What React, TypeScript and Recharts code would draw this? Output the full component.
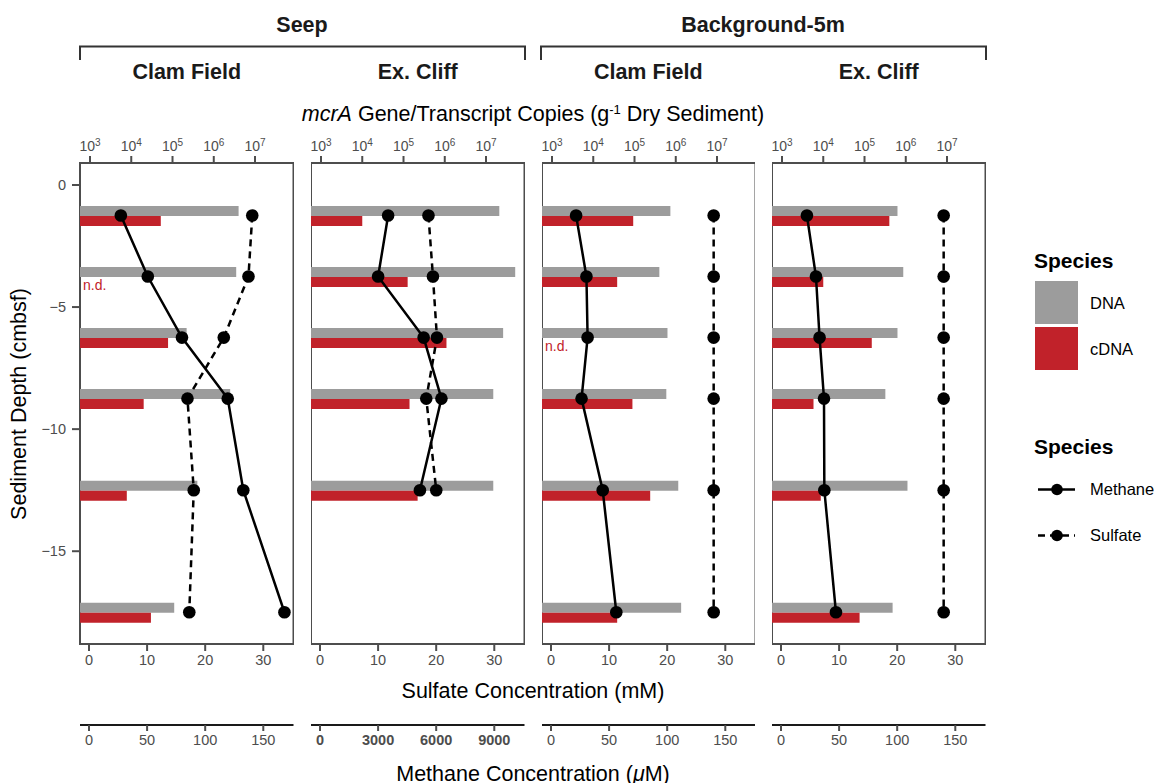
import React from "react";
import { ComposedChart, Bar, Line, XAxis, YAxis, ReferenceArea, ReferenceDot } from "recharts";

// sediment depth of each sampled horizon (cmbsf)
const depths = [-1.25, -3.75, -6.25, -8.75, -12.5, -17.5];

// mcrA copies per g dry sediment (null = n.d. / not sampled)
const seepClamDna = [4.0e6, 3.5e6, 2.2e5, 2.5e6, 4.0e5, 1.1e5];
const seepClamCdna = [5.2e4, null, 7.8e4, 2.0e4, 7.8e3, 3.0e4];
const seepCliffDna = [2.1e7, 5.1e7, 2.6e7, 1.5e7, 1.5e7, null];
const seepCliffCdna = [1.0e4, 1.26e5, 1.1e6, 1.4e5, 2.2e5, null];
const bgClamDna = [7.4e5, 4.0e5, 6.3e5, 5.9e5, 1.15e6, 1.35e6];
const bgClamCdna = [9.3e4, 3.8e4, null, 8.9e4, 2.4e5, 3.8e4];
const bgCliffDna = [6.3e5, 8.7e5, 6.3e5, 3.2e5, 1.1e6, 4.8e5];
const bgCliffCdna = [4.0e5, 1.0e4, 1.5e5, 5.8e3, 8.7e3, 7.6e4];

// methane (uM) and sulfate (mM)
const seepClamMethane = [27.4, 50.6, 80, 119.4, 132.8, 168.2];
const seepClamSulfate = [28.1, 27.45, 23.2, 16.95, 18.03, 17.26];
const seepCliffMethane = [3518, 3000, 5352, 6271, 5160, null];
const seepCliffSulfate = [18.67, 19.44, 20.13, 18.29, 20.01, null];
const bgClamMethane = [21.6, 30.5, 31.5, 26.3, 44.5, 56.2];
const bgClamSulfate = [28, 28, 28, 28, 28, 28];
const bgCliffMethane = [22.3, 30.1, 33.2, 37, 37.3, 47.3];
const bgCliffSulfate = [28, 28, 28, 28, 28, 28];

const logTicks = [1e3, 1e4, 1e5, 1e6, 1e7];
const sulfateTicks = [0, 10, 20, 30];
const depthTicks = [0, -5, -10, -15];
const methaneTicksLow = [0, 50, 100, 150];
const methaneTicksHigh = [0, 3000, 6000, 9000];

const LOG_DOMAIN: [number, number] = [572, 8.57e7];
const SULFATE_DOMAIN: [number, number] = [-1.55, 35.2];
const DEPTH_DOMAIN: [number, number] = [-18.8, 0.9];

const GRAY = "#9c9c9c";
const RED = "#c1222a";
const AXIS = "#4d4d4d";
const FONT = "'Liberation Sans', Arial, Helvetica, sans-serif";

const panels = [
  { title: "Clam Field", left: 80, dna: seepClamDna, cdna: seepClamCdna, methane: seepClamMethane, sulfate: seepClamSulfate, factor: 5, mTicks: methaneTicksLow, boldM: false },
  { title: "Ex. Cliff", left: 311, dna: seepCliffDna, cdna: seepCliffCdna, methane: seepCliffMethane, sulfate: seepCliffSulfate, factor: 300, mTicks: methaneTicksHigh, boldM: true },
  { title: "Clam Field", left: 541.5, dna: bgClamDna, cdna: bgClamCdna, methane: bgClamMethane, sulfate: bgClamSulfate, factor: 5, mTicks: methaneTicksLow, boldM: false },
  { title: "Ex. Cliff", left: 772, dna: bgCliffDna, cdna: bgCliffCdna, methane: bgCliffMethane, sulfate: bgCliffSulfate, factor: 5, mTicks: methaneTicksLow, boldM: false },
];

const PANEL_W = 213.5;

const PowTick = (props: any) => {
  const { x, y, payload } = props;
  const exp = Math.round(Math.log10(payload.value));
  return (
    <text x={x} y={y - 3} textAnchor="middle" fill={AXIS} fontSize={14}>
      <tspan>10</tspan>
      <tspan dy={-5} fontSize={10}>{exp}</tspan>
    </text>
  );
};

const fmtDepth = (v: number) => (v < 0 ? "\u2212" + Math.abs(v) : String(v));

const ndLabel = (lp: any) => (
  <text x={lp.viewBox.x + 3} y={lp.viewBox.y + 13} fill={RED} fontSize={14}>
    n.d.
  </text>
);

function Panel({ idx }: { idx: number }) {
  const p = panels[idx];
  const first = idx === 0;
  const yW = first ? 80 : 0;
  const data = depths.map((d, i) => ({
    depth: d,
    dna: p.dna[i],
    cdna: p.cdna[i],
    methane: p.methane[i],
    sulfate: p.sulfate[i],
  }));
  const mDomain: [number, number] = [SULFATE_DOMAIN[0] * p.factor, SULFATE_DOMAIN[1] * p.factor];
  const nd = data.filter((r) => r.cdna === null && r.dna !== null);
  const dot = { r: 6.3, fill: "#000", stroke: "#000", strokeWidth: 0 };

  return (
    <div style={{ position: "absolute", left: p.left - yW, top: 0 }}>
      <ComposedChart
        width={PANEL_W + yW}
        height={783}
        data={data}
        layout="vertical"
        barGap={0}
        margin={{ top: 133, right: 0, bottom: 28, left: 0 }}
      >
        <XAxis
          xAxisId="log"
          orientation="top"
          type="number"
          scale="log"
          domain={LOG_DOMAIN}
          allowDataOverflow
          ticks={logTicks}
          tick={<PowTick />}
          height={30}
          tickSize={7}
          axisLine={false}
          tickLine={{ stroke: AXIS, strokeWidth: 2 }}
          interval={0}
        />
        <XAxis
          xAxisId="b_methane"
          orientation="bottom"
          type="number"
          domain={mDomain}
          allowDataOverflow
          ticks={p.mTicks}
          height={30}
          tickSize={6}
          tickMargin={4}
          axisLine={{ stroke: "#1a1a1a", strokeWidth: 2.2 }}
          tickLine={{ stroke: AXIS, strokeWidth: 2 }}
          tick={{ fill: AXIS, fontSize: 14.5, fontWeight: p.boldM ? "bold" : "normal" }}
          interval={0}
        />
        <XAxis
          xAxisId="a_sulfate"
          orientation="bottom"
          type="number"
          domain={SULFATE_DOMAIN}
          allowDataOverflow
          ticks={sulfateTicks}
          height={81}
          tickSize={7}
          tickMargin={4}
          axisLine={false}
          tickLine={{ stroke: AXIS, strokeWidth: 2 }}
          tick={{ fill: AXIS, fontSize: 14.5 }}
          interval={0}
        />
        <YAxis
          type="number"
          dataKey="depth"
          domain={DEPTH_DOMAIN}
          allowDataOverflow
          reversed
          ticks={depthTicks}
          tickFormatter={fmtDepth}
          hide={!first}
          width={yW}
          tickSize={8}
          tickMargin={6}
          axisLine={false}
          tickLine={{ stroke: AXIS, strokeWidth: 2 }}
          tick={{ fill: AXIS, fontSize: 14.5 }}
          interval={0}
        />
        <Bar xAxisId="log" dataKey="dna" fill={GRAY} barSize={10} isAnimationActive={false} />
        <Bar xAxisId="log" dataKey="cdna" fill={RED} barSize={10} isAnimationActive={false} />
        <Line
          xAxisId="a_sulfate"
          dataKey="sulfate"
          stroke="#000"
          strokeWidth={2.5}
          strokeDasharray="7 5"
          dot={dot}
          activeDot={false}
          isAnimationActive={false}
        />
        <Line
          xAxisId="b_methane"
          dataKey="methane"
          stroke="#000"
          strokeWidth={2.5}
          dot={dot}
          activeDot={false}
          isAnimationActive={false}
        />
        {nd.map((r) => (
          <ReferenceDot
            key={r.depth}
            xAxisId="log"
            x={LOG_DOMAIN[0]}
            y={r.depth}
            r={0}
            fill="none"
            stroke="none"
            ifOverflow="visible"
            label={ndLabel}
          />
        ))}
        <ReferenceArea
          xAxisId="a_sulfate"
          x1={SULFATE_DOMAIN[0]}
          x2={SULFATE_DOMAIN[1]}
          y1={DEPTH_DOMAIN[0]}
          y2={DEPTH_DOMAIN[1]}
          fill="none"
          fillOpacity={0}
          stroke={AXIS}
          strokeWidth={2}
          ifOverflow="visible"
        />
      </ComposedChart>
    </div>
  );
}

export default function App() {
  return (
    <div
      style={{
        position: "absolute",
        left: 0,
        top: 0,
        width: 1154,
        height: 783,
        background: "#fff",
        fontFamily: FONT,
        overflow: "hidden",
      }}
    >
      {panels.map((_, i) => (
        <Panel key={i} idx={i} />
      ))}
      <svg
        width={1154}
        height={783}
        style={{ position: "absolute", left: 0, top: 0, pointerEvents: "none", fontFamily: FONT }}
      >
        {/* strip headers */}
        <text x={302} y={32} textAnchor="middle" fontSize={21.5} fontWeight="bold" fill="#1a1a1a">Seep</text>
        <text x={763} y={32} textAnchor="middle" fontSize={21.5} fontWeight="bold" fill="#1a1a1a">Background-5m</text>
        <path d="M80,60 V46.5 H525 V60" fill="none" stroke="#333" strokeWidth={2} />
        <path d="M541,60 V46.5 H986 V60" fill="none" stroke="#333" strokeWidth={2} />
        {panels.map((p, i) => (
          <text key={i} x={p.left + PANEL_W / 2} y={79} textAnchor="middle" fontSize={21.5} fontWeight="bold" fill="#1a1a1a">
            {p.title}
          </text>
        ))}
        {/* axis titles */}
        <text x={533} y={120.5} textAnchor="middle" fontSize={21.5} fill="#000">
          <tspan fontStyle="italic">mcrA</tspan> Gene/Transcript Copies (g
          <tspan dy={-7} fontSize={13}>-1</tspan>
          <tspan dy={7}> Dry Sediment)</tspan>
        </text>
        <text x={533} y={697.5} textAnchor="middle" fontSize={21.5} fill="#000">Sulfate Concentration (mM)</text>
        <text x={533} y={780.5} textAnchor="middle" fontSize={21.5} fill="#000">
          Methane Concentration (<tspan fontStyle="italic">μ</tspan>M)
        </text>
        <text transform="translate(26,404) rotate(-90)" textAnchor="middle" fontSize={21.5} fill="#000">
          Sediment Depth (cmbsf)
        </text>
        {/* legends */}
        <text x={1034} y={268} fontSize={21} fontWeight="bold" fill="#000">Species</text>
        <rect x={1035} y={281} width={43} height={43} fill={GRAY} />
        <rect x={1035} y={327} width={43} height={43} fill={RED} />
        <text x={1090} y={309} fontSize={16.5} fill="#000">DNA</text>
        <text x={1090} y={355} fontSize={16.5} fill="#000">cDNA</text>
        <text x={1034} y={454} fontSize={21} fontWeight="bold" fill="#000">Species</text>
        <line x1={1038} x2={1075} y1={489.5} y2={489.5} stroke="#000" strokeWidth={2.4} />
        <circle cx={1057} cy={489.5} r={5.8} fill="#000" />
        <text x={1090} y={495} fontSize={16.5} fill="#000">Methane</text>
        <line x1={1038} x2={1075} y1={535.5} y2={535.5} stroke="#000" strokeWidth={2.4} strokeDasharray="7 5" />
        <circle cx={1057} cy={535.5} r={5.8} fill="#000" />
        <text x={1090} y={541} fontSize={16.5} fill="#000">Sulfate</text>
      </svg>
    </div>
  );
}
